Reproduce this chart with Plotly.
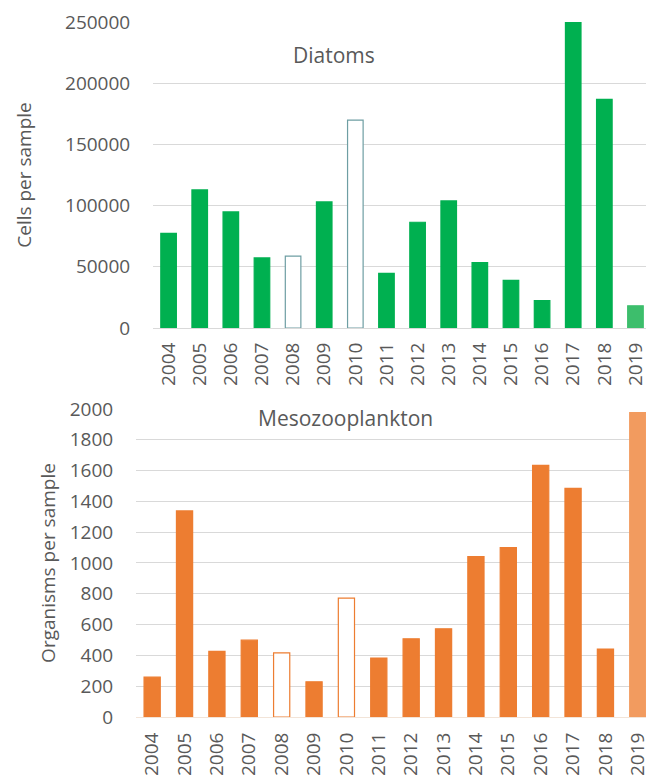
import plotly.graph_objects as go

years = [str(y) for y in range(2004, 2020)]
diatoms = [77400, 112800, 94800, 57300, 58700, 103000, 169800, 44600, 86400,
           103800, 53500, 38900, 22500, 250000, 186700, 18200]
mesozoo = [259, 1338, 426, 499, 417, 229, 772, 383, 508, 573, 1042, 1100,
           1634, 1485, 441, 1976]
hollow_years = ["2008", "2010"]
provisional_year = "2019"

GREEN = "#00B050"
GREEN_LIGHT = "#3DBE6C"
ORANGE = "#ED7D31"
ORANGE_LIGHT = "#F29B5F"
HOLLOW_TOP = "#6E9EA3"


def colors(base, light):
    fill = []
    for y in years:
        if y in hollow_years:
            fill.append("white")
        elif y == provisional_year:
            fill.append(light)
        else:
            fill.append(base)
    return fill


top_fill = colors(GREEN, GREEN_LIGHT)
top_line = [HOLLOW_TOP if y in hollow_years else c for y, c in zip(years, top_fill)]
bot_fill = colors(ORANGE, ORANGE_LIGHT)
bot_line = [ORANGE if y in hollow_years else c for y, c in zip(years, bot_fill)]

fig = go.Figure()
fig.add_trace(go.Bar(x=years, y=diatoms, xaxis="x", yaxis="y",
                     marker=dict(color=top_fill, line=dict(color=top_line, width=1.2)),
                     showlegend=False))
fig.add_trace(go.Bar(x=years, y=mesozoo, xaxis="x2", yaxis="y2",
                     marker=dict(color=bot_fill, line=dict(color=bot_line, width=1.2)),
                     showlegend=False))

FONT = "Open Sans"
GRAY = "#595959"
GRID = "#D9D9D9"
tickfont = dict(family=FONT, size=19, color=GRAY)

# page body has an 8px margin, so the figure is 8px smaller than the window
W, H = 646, 768

fig.update_layout(
    width=W, height=H,
    margin=dict(l=0, r=0, t=0, b=0, autoexpand=False),
    paper_bgcolor="white", plot_bgcolor="white",
    bargap=0.5,
    font=dict(family=FONT, color=GRAY),
    xaxis=dict(domain=[0.2245, 0.9954], anchor="y", type="category",
               automargin=False,
               tickangle=-90, tickfont=tickfont, showgrid=False,
               showline=True, linecolor=GRID, linewidth=1,
               ticks="outside", ticklen=6, tickcolor="rgba(0,0,0,0)"),
    yaxis=dict(domain=[0.5833, 0.9818], anchor="x", range=[0, 250000],
               automargin=False,
               tickvals=[0, 50000, 100000, 150000, 200000, 250000],
               ticktext=["0", "50000", "100000", "150000", "200000", "250000"],
               tickfont=tickfont, showgrid=True, gridcolor=GRID, gridwidth=1,
               zeroline=False, ticks="outside", ticklen=18,
               tickcolor="rgba(0,0,0,0)",
               title=dict(text="Cells per sample",
                          font=dict(family=FONT, size=19, color=GRAY),
                          standoff=28)),
    xaxis2=dict(domain=[0.1981, 1.0], anchor="y2", type="category",
                automargin=False,
                tickangle=-90, tickfont=tickfont, showgrid=False,
                showline=True, linecolor="#F2E4D8", linewidth=1,
                ticks="outside", ticklen=7, tickcolor="rgba(0,0,0,0)"),
    yaxis2=dict(domain=[0.0768, 0.4779], anchor="x2", range=[0, 2000],
                automargin=False,
                tickvals=list(range(0, 2001, 200)),
                tickfont=tickfont, showgrid=True, gridcolor=GRID, gridwidth=1,
                zeroline=False, ticks="outside", ticklen=18,
                tickcolor="rgba(0,0,0,0)",
                title=dict(text="Organisms per sample",
                           font=dict(family=FONT, size=19, color=GRAY),
                           standoff=9)),
    annotations=[
        dict(text="Diatoms", xref="paper", yref="paper",
             x=326 / W, y=1 - 47 / H, xanchor="center", yanchor="middle",
             showarrow=False,
             font=dict(family=FONT, size=21, color=GRAY)),
        dict(text="Mesozooplankton", xref="paper", yref="paper",
             x=337 / W, y=1 - 410 / H, xanchor="center", yanchor="middle",
             showarrow=False,
             font=dict(family=FONT, size=21, color=GRAY)),
    ],
)

fig.write_html("out.html")
